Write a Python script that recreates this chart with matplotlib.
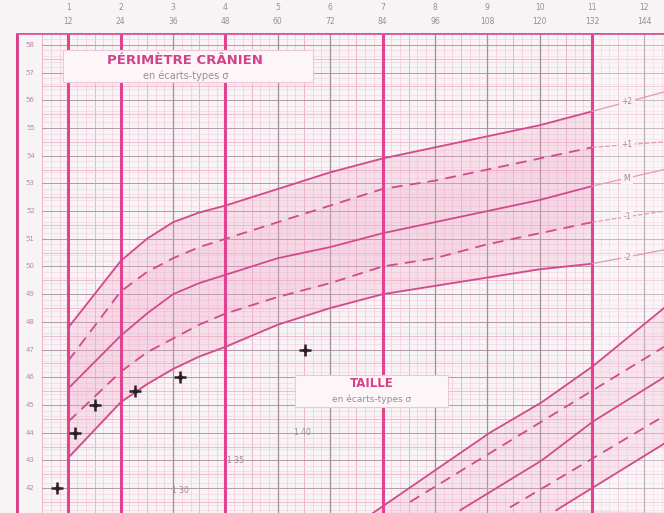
import numpy as np
import matplotlib.pyplot as plt
from matplotlib.patches import Rectangle

# périmètre crânien (cm) par âge (mois), en écarts-types
mois = [12, 24, 30, 36, 42, 48, 60, 72, 84, 96, 108, 120, 132]
pc_p2 = [47.8, 50.2, 51.0, 51.6, 51.95, 52.2, 52.8, 53.4, 53.9, 54.3, 54.7, 55.1, 55.6]
pc_p1 = [46.6, 49.1, 49.8, 50.3, 50.7, 51.0, 51.6, 52.2, 52.8, 53.1, 53.5, 53.9, 54.3]
pc_m = [45.6, 47.5, 48.3, 49.0, 49.4, 49.7, 50.3, 50.7, 51.2, 51.6, 52.0, 52.4, 52.9]
pc_m1 = [44.4, 46.2, 46.9, 47.4, 47.9, 48.3, 48.9, 49.4, 50.0, 50.3, 50.8, 51.2, 51.6]
pc_m2 = [43.1, 45.1, 45.75, 46.3, 46.75, 47.1, 47.9, 48.5, 49.0, 49.3, 49.6, 49.9, 50.1]

# prolongement après 11 ans
mois_fin = [132, 148.5]
fin_p2 = [55.6, 56.3]
fin_p1 = [54.3, 54.5]
fin_m = [52.9, 53.5]
fin_m1 = [51.6, 52.0]
fin_m2 = [50.1, 50.6]
noms_courbes = ["+2", "+1", "M", "-1", "-2"]

# courbes de taille (dessinées sur la même grille)
taille_a_x = [81.8, 108.6, 120.5, 132.2, 148.5]
taille_a_y = [41.1, 44.0, 45.1, 46.4, 48.5]
taille_b_x = [90.3, 148.5]
taille_b_y = [41.5, 47.1]
taille_c_x = [101.8, 120.5, 132.2, 148.5]
taille_c_y = [41.2, 43.0, 44.4, 46.0]
taille_d_x = [113.2, 148.5]
taille_d_y = [41.3, 44.6]
taille_e_x = [123.8, 148.5]
taille_e_y = [41.2, 43.6]
reperes_taille = ["1 30", "1 35", "1 40"]
reperes_x = [37.6, 50.3, 65.6]
reperes_y = [41.9, 43.0, 44.0]

# mesures de l'enfant
pts_mois = [9.5, 13.6, 18.2, 27.3, 37.6, 66.3]
pts_pc = [42.0, 44.0, 45.0, 45.5, 46.0, 47.0]

annees = list(range(1, 13))
mois_ticks = [12 * a for a in annees]
graduations = list(range(42, 59))

XMAX = 148.5
YMIN, YMAX = 41.1, 58.43

GRIS = '#b39aa9'
COURBE = '#d24a8c'

fig = plt.figure(figsize=(6.64, 5.13), dpi=100, facecolor='#f8f3f5')
ax = fig.add_axes([16 / 664, 0, 648 / 664, 480 / 513])
ax.set_facecolor('#fcebf2')
ax.set_xlim(0, XMAX)
ax.set_ylim(YMIN, YMAX)
ax.axis('off')

# grille fine
for m in np.arange(6, XMAX, 2):
    ax.axvline(m, color='#f4c9db', lw=0.5, zorder=1)
for m in np.arange(6, XMAX, 6):
    ax.axvline(m, color='#eab0c9', lw=0.6, zorder=1)
for v in np.arange(41.2, YMAX, 0.2):
    ax.axhline(v, xmin=6 / XMAX, color='#f5cede', lw=0.4, zorder=1)
for v in np.arange(41.5, YMAX, 0.5):
    ax.axhline(v, xmin=6 / XMAX, color='#ecb4cc', lw=0.6, zorder=1)
for v in graduations:
    ax.axhline(v, xmin=6 / XMAX, color=GRIS, lw=0.7, zorder=2)
    ax.text(3.3, v, str(v), fontsize=5, color='#b88aa2', ha='center', va='center', zorder=5)
for m in mois_ticks:
    if m in (12, 24, 48, 84, 132):
        ax.axvline(m, color='#e2428f', lw=2.2, zorder=3)
    else:
        ax.axvline(m, color='#a58d9b', lw=0.9, zorder=2)

# zone claire après 11 ans
ax.axvspan(132, XMAX, color='white', alpha=0.3, zorder=2)

# cadre
ax.axvline(0, color='#d83f86', lw=3.5, zorder=6)
ax.axhline(YMAX, color='#d6589a', lw=2, zorder=6)

# graduations du haut
for a, m in zip(annees, mois_ticks):
    ax.text(m, 59.34, str(a), fontsize=5.5, color='#9c8c95', ha='center', va='center', clip_on=False)
    ax.text(m, 58.83, str(m), fontsize=5.5, color='#9c8c95', ha='center', va='center', clip_on=False)

# bande ±2σ du périmètre crânien
ax.fill_between(mois, pc_m2, pc_p2, color='#f2a7c8', alpha=0.25, zorder=2)
ax.fill_between(mois, pc_m1, pc_p1, color='#f2a7c8', alpha=0.15, zorder=2)

styles = ['-', '--', '-', '--', '-']
for y, s in zip([pc_p2, pc_p1, pc_m, pc_m1, pc_m2], styles):
    ax.plot(mois, y, s, color=COURBE, lw=1.3, dashes=(6, 4) if s == '--' else (None, None), zorder=4)
for y, s, nom in zip([fin_p2, fin_p1, fin_m, fin_m1, fin_m2], styles, noms_courbes):
    ax.plot(mois_fin, y, s, color='#e596bb', lw=0.9, zorder=4)
    yl = np.interp(140, mois_fin, y)
    ax.text(140, yl, nom, fontsize=5.5, color='#9c8c95', ha='center', va='center', zorder=5,
            bbox=dict(boxstyle='square,pad=0.3', fc='#fcf0f5', ec='none'))

# courbes de taille
ax.fill(taille_a_x + taille_e_x[::-1] + [XMAX, taille_a_x[0]],
        taille_a_y + taille_e_y[::-1] + [YMIN, YMIN], color='#f2a7c8', alpha=0.22, zorder=2)
for xs, ys, s in [(taille_a_x, taille_a_y, '-'), (taille_b_x, taille_b_y, '--'),
                  (taille_c_x, taille_c_y, '-'), (taille_d_x, taille_d_y, '--'),
                  (taille_e_x, taille_e_y, '-')]:
    ax.plot(xs, ys, s, color=COURBE, lw=1.3, dashes=(6, 4) if s == '--' else (None, None), zorder=4)
for t, x, y in zip(reperes_taille, reperes_x, reperes_y):
    ax.text(x, y, t, fontsize=5.5, color='#9c8c95', ha='center', va='center', zorder=5)

# points mesurés
ax.plot(pts_mois, pts_pc, '+', color='#2b1f26', ms=9, mew=1.8, zorder=7)
ax.plot(pts_mois, pts_pc, 'o', color='#2b1f26', ms=2.5, zorder=7)

# encadrés
ax.add_patch(Rectangle((10.85, 56.66), 57.25, 1.16, fc='#fdf6f9', ec='#ecc8d8', lw=0.8, zorder=6))
ax.text(38.8, 57.44, "PÉRIMÈTRE CRÂNIEN", fontsize=9.5, fontweight='bold', color='#d6408a',
        ha='center', va='center', zorder=7)
ax.text(38.8, 56.9, "en écarts-types σ", fontsize=7, color='#9c8c95', ha='center', va='center', zorder=7)

ax.add_patch(Rectangle((64.0, 44.93), 35.0, 1.15, fc='#fdf6f9', ec='#ecc8d8', lw=0.8, zorder=6))
ax.text(81.6, 45.79, "TAILLE", fontsize=8.5, fontweight='bold', color='#d6408a',
        ha='center', va='center', zorder=7)
ax.text(81.6, 45.22, "en écarts-types σ", fontsize=6.5, color='#9c8c95', ha='center', va='center', zorder=7)

plt.savefig('out.png', dpi=100, facecolor=fig.get_facecolor())
